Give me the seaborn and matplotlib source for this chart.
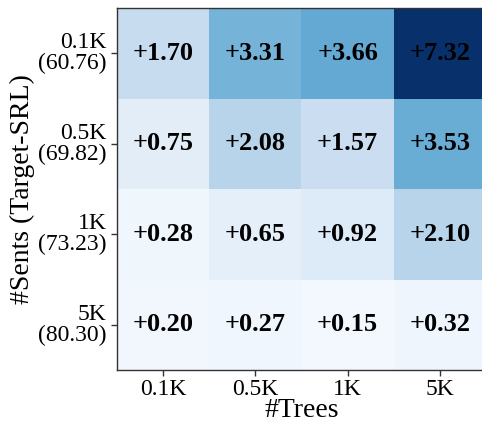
import numpy as np
import pandas as pd
import matplotlib
matplotlib.use("Agg")
import matplotlib.pyplot as plt
import seaborn as sns

# Gains over the baseline for each (sentences, trees) combination
trees = ["0.1K", "0.5K", "1K", "5K"]
sents = ["0.1K\n(60.76)", "0.5K\n(69.82)", "1K\n(73.23)", "5K\n(80.30)"]
row_01k = [1.70, 3.31, 3.66, 7.32]
row_05k = [0.75, 2.08, 1.57, 3.53]
row_1k = [0.28, 0.65, 0.92, 2.10]
row_5k = [0.20, 0.27, 0.15, 0.32]

data = pd.DataFrame([row_01k, row_05k, row_1k, row_5k], index=sents, columns=trees)
labels = data.map(lambda v: f"+{v:.2f}")

sns.set_theme(style="white")
plt.rcParams["font.family"] = ["Liberation Serif", "DejaVu Serif"]
plt.rcParams["text.color"] = "black"
plt.rcParams["axes.labelcolor"] = "black"
plt.rcParams["xtick.color"] = "black"
plt.rcParams["ytick.color"] = "black"

fig = plt.figure(figsize=(4.82, 4.25), dpi=100)
ax = fig.add_axes([0.243, 0.129, 0.765, 0.852])

sns.heatmap(data, ax=ax, cmap="Blues", vmin=0, vmax=7.0, cbar=False,
            annot=labels, fmt="",
            annot_kws={"fontsize": 19, "fontweight": "bold", "color": "black"})

for side in ["left", "bottom", "top", "right"]:
    ax.spines[side].set_visible(True)
    ax.spines[side].set_color("#333333")
    ax.spines[side].set_linewidth(1.0)

ax.tick_params(axis="both", which="both", length=4, width=1, color="#333333",
               labelsize=17, bottom=True, left=True, labelcolor="black")
ax.tick_params(axis="x", pad=2)
ax.set_xticklabels(trees, rotation=0)
ax.set_yticklabels(sents, rotation=0, va="center", linespacing=1.0)
ax.set_xlabel("#Trees", fontsize=20, labelpad=-1, color="black")
ax.set_ylabel("#Sents (Target-SRL)", fontsize=20, labelpad=2, color="black")

fig.savefig("out.png", dpi=100)
